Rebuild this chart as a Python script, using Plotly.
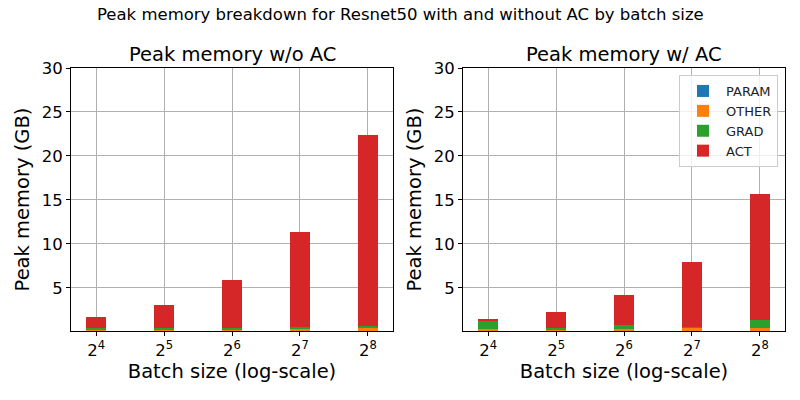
import plotly.graph_objects as go
from plotly.subplots import make_subplots

# Data
batch_log2 = [4, 5, 6, 7, 8]
tick_labels = ["2<sup>4</sup>", "2<sup>5</sup>", "2<sup>6</sup>", "2<sup>7</sup>", "2<sup>8</sup>"]
categories = ["PARAM", "OTHER", "GRAD", "ACT"]

noac_param = [0.1, 0.1, 0.1, 0.1, 0.1]
noac_other = [0.15, 0.15, 0.15, 0.3, 0.3]
noac_grad = [0.15, 0.15, 0.15, 0.1, 0.3]
noac_act = [1.3, 2.65, 5.5, 10.85, 21.7]

ac_param = [0.1, 0.1, 0.1, 0.1, 0.1]
ac_other = [0.2, 0.2, 0.2, 0.35, 0.35]
ac_grad = [0.95, 0.15, 0.45, 0.05, 0.95]
ac_act = [0.25, 1.85, 3.45, 7.45, 14.3]

colors = ["#1f77b4", "#ff7f0e", "#2ca02c", "#d62728"]
FONT = "DejaVu Sans"

fig = make_subplots(rows=1, cols=2)

for col, series in ((1, [noac_param, noac_other, noac_grad, noac_act]),
                    (2, [ac_param, ac_other, ac_grad, ac_act])):
    for name, vals, c in zip(categories, series, colors):
        fig.add_trace(go.Bar(x=batch_log2, y=vals, name=name, width=0.3,
                             marker=dict(color=c, line=dict(width=0)),
                             showlegend=(col == 2)), row=1, col=col)

axis_common = dict(showgrid=True, gridcolor="#b0b0b0", gridwidth=1,
                   showline=True, linecolor="black", linewidth=1, mirror=True,
                   ticks="outside", ticklen=4, tickcolor="black",
                   tickfont=dict(family=FONT, size=16.5, color="black"),
                   zeroline=False, layer="above traces", automargin=False)

fig.update_xaxes(**axis_common, range=[3.63, 8.37], tickvals=batch_log2, ticktext=tick_labels,
                 title=dict(text="Batch size (log-scale)", font=dict(family=FONT, size=19.5, color="black"),
                            standoff=5))
fig.update_yaxes(**axis_common, range=[0.1, 30], tickvals=[5, 10, 15, 20, 25, 30],
                 title=dict(text="Peak memory (GB)", font=dict(family=FONT, size=19.5, color="black"),
                            standoff=6))

fig.update_layout(
    width=800, height=400, margin=dict(l=0, r=0, t=0, b=0, autoexpand=False),
    paper_bgcolor="white", plot_bgcolor="white",
    barmode="stack", bargap=0,
    font=dict(family=FONT, color="black"),
    xaxis=dict(domain=[0.08875, 0.49125]),
    xaxis2=dict(domain=[0.57875, 0.98125]),
    yaxis=dict(domain=[0.1725, 0.83]),
    yaxis2=dict(domain=[0.1725, 0.83]),
    legend=dict(x=0.9725, xanchor="right", y=0.8125, yanchor="top",
                traceorder="normal", bgcolor="rgba(255,255,255,0.8)",
                bordercolor="#cccccc", borderwidth=1,
                font=dict(family=FONT, size=13, color="#222"), tracegroupgap=0,
                itemwidth=36),
    annotations=[
        dict(text="Peak memory breakdown for Resnet50 with and without AC by batch size",
             x=0.5, y=1 - 15 / 400, xref="paper", yref="paper", showarrow=False,
             font=dict(family=FONT, size=16.5, color="black"), xanchor="center", yanchor="middle"),
        dict(text="Peak memory w/o AC", x=(0.08875 + 0.49125) / 2, y=1 - 54 / 400,
             xref="paper", yref="paper", showarrow=False,
             font=dict(family=FONT, size=19.5, color="black"), xanchor="center", yanchor="middle"),
        dict(text="Peak memory w/ AC", x=(0.57875 + 0.98125) / 2, y=1 - 54 / 400,
             xref="paper", yref="paper", showarrow=False,
             font=dict(family=FONT, size=19.5, color="black"), xanchor="center", yanchor="middle"),
    ],
)

fig.write_html("out.html")
